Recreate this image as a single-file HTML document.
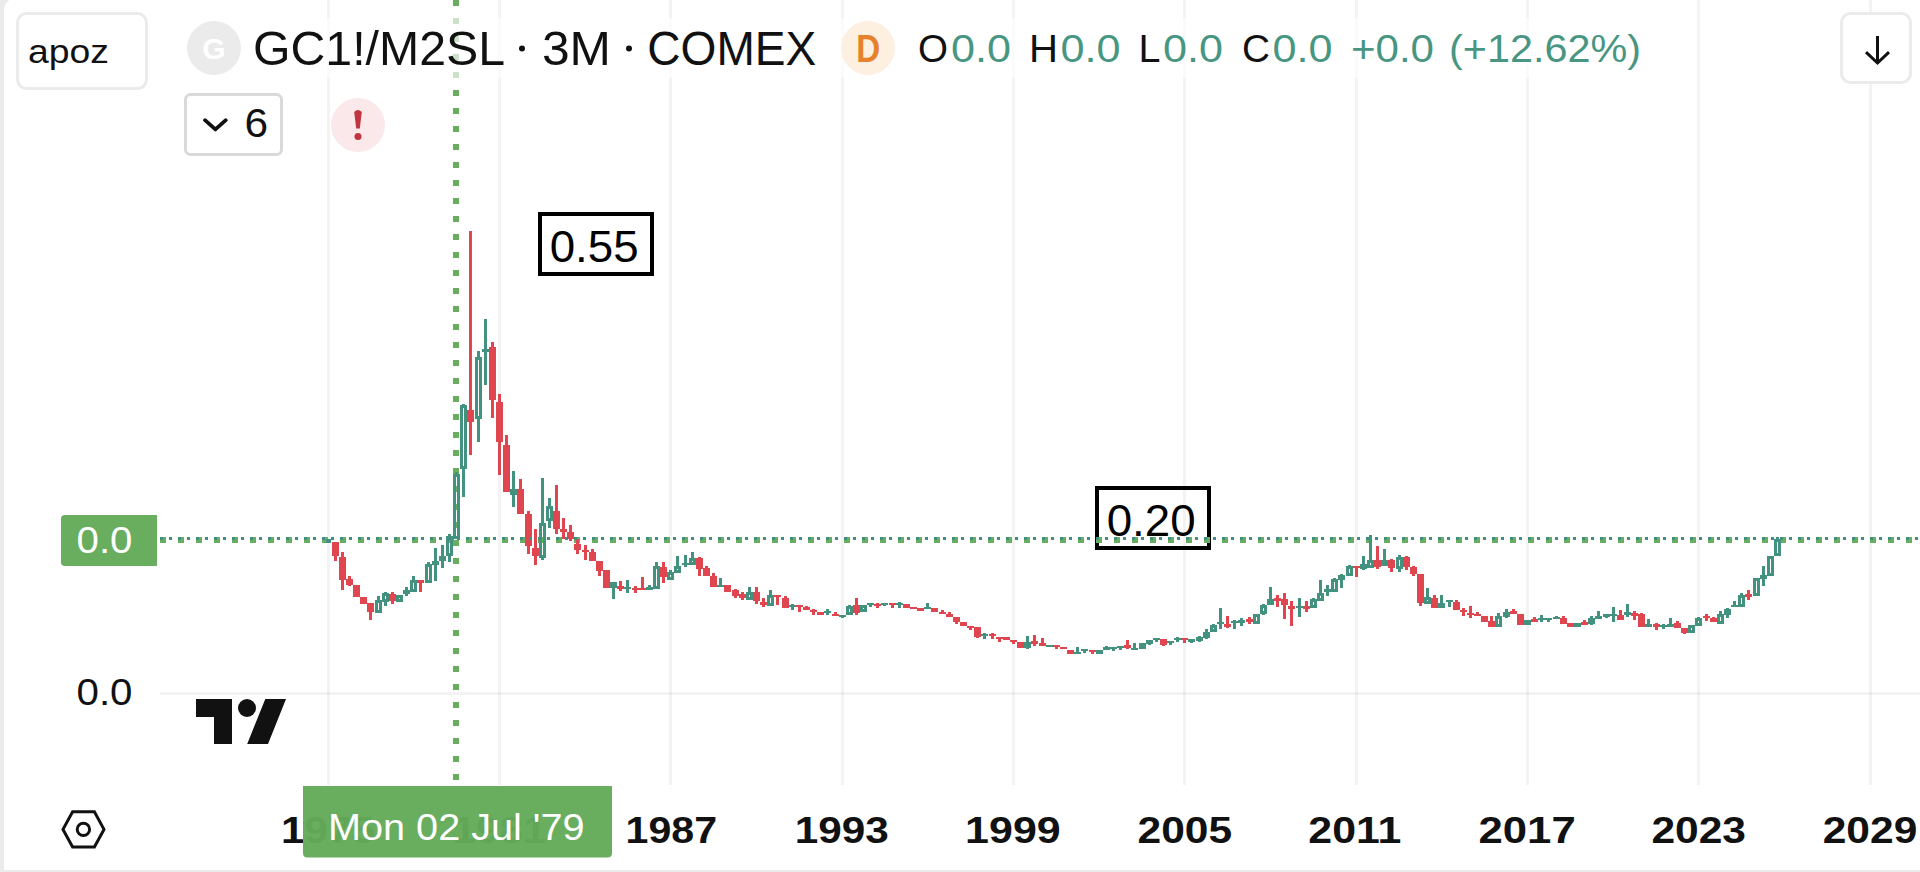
<!DOCTYPE html>
<html lang="en"><head><meta charset="utf-8"><title>GC1!/M2SL chart</title>
<style>
html,body{margin:0;padding:0;}
body{width:1920px;height:872px;overflow:hidden;background:#ebebeb;position:relative;font-family:"Liberation Sans",sans-serif;}
#pane{position:absolute;left:4px;top:-2px;width:1930px;height:872px;background:#fff;border-radius:12px 0 0 0;}
svg{position:absolute;left:0;top:0;}
text{font-family:"Liberation Sans",sans-serif;}
</style></head><body>
<div id="pane"></div>
<svg width="1920" height="872" viewBox="0 0 1920 872">

<g shape-rendering="crispEdges" fill="#000" fill-opacity="0.047">
<rect x="327" y="0" width="3" height="785"/>
<rect x="498" y="0" width="3" height="785"/>
<rect x="669" y="0" width="3" height="785"/>
<rect x="841" y="0" width="3" height="785"/>
<rect x="1012" y="0" width="3" height="785"/>
<rect x="1183" y="0" width="3" height="785"/>
<rect x="1355" y="0" width="3" height="785"/>
<rect x="1526" y="0" width="3" height="785"/>
<rect x="1697" y="0" width="3" height="785"/>
<rect x="1869" y="0" width="3" height="785"/>
<rect x="160" y="692" width="1760" height="3"/>
</g>
<rect x="540" y="214" width="112" height="60" fill="none" stroke="#000" stroke-width="4" shape-rendering="crispEdges"/>
<text x="549.7" y="261.8" font-size="45" fill="#000" textLength="89" lengthAdjust="spacingAndGlyphs">0.55</text>
<rect x="1097" y="488" width="112" height="60" fill="none" stroke="#000" stroke-width="4" shape-rendering="crispEdges"/>
<text x="1106.7" y="535.8" font-size="45" fill="#000" textLength="89" lengthAdjust="spacingAndGlyphs">0.20</text>
<g shape-rendering="crispEdges" fill="#69ad5f">
<rect x="160" y="537" width="6" height="6"/>
<rect x="178" y="537" width="6" height="6"/>
<rect x="196" y="537" width="6" height="6"/>
<rect x="214" y="537" width="6" height="6"/>
<rect x="232" y="537" width="6" height="6"/>
<rect x="250" y="537" width="6" height="6"/>
<rect x="268" y="537" width="6" height="6"/>
<rect x="286" y="537" width="6" height="6"/>
<rect x="304" y="537" width="6" height="6"/>
<rect x="322" y="537" width="6" height="6"/>
<rect x="340" y="537" width="6" height="6"/>
<rect x="358" y="537" width="6" height="6"/>
<rect x="376" y="537" width="6" height="6"/>
<rect x="394" y="537" width="6" height="6"/>
<rect x="412" y="537" width="6" height="6"/>
<rect x="430" y="537" width="6" height="6"/>
<rect x="448" y="537" width="6" height="6"/>
<rect x="466" y="537" width="6" height="6"/>
<rect x="484" y="537" width="6" height="6"/>
<rect x="502" y="537" width="6" height="6"/>
<rect x="520" y="537" width="6" height="6"/>
<rect x="538" y="537" width="6" height="6"/>
<rect x="556" y="537" width="6" height="6"/>
<rect x="574" y="537" width="6" height="6"/>
<rect x="592" y="537" width="6" height="6"/>
<rect x="610" y="537" width="6" height="6"/>
<rect x="628" y="537" width="6" height="6"/>
<rect x="646" y="537" width="6" height="6"/>
<rect x="664" y="537" width="6" height="6"/>
<rect x="682" y="537" width="6" height="6"/>
<rect x="700" y="537" width="6" height="6"/>
<rect x="718" y="537" width="6" height="6"/>
<rect x="736" y="537" width="6" height="6"/>
<rect x="754" y="537" width="6" height="6"/>
<rect x="772" y="537" width="6" height="6"/>
<rect x="790" y="537" width="6" height="6"/>
<rect x="808" y="537" width="6" height="6"/>
<rect x="826" y="537" width="6" height="6"/>
<rect x="844" y="537" width="6" height="6"/>
<rect x="862" y="537" width="6" height="6"/>
<rect x="880" y="537" width="6" height="6"/>
<rect x="898" y="537" width="6" height="6"/>
<rect x="916" y="537" width="6" height="6"/>
<rect x="934" y="537" width="6" height="6"/>
<rect x="952" y="537" width="6" height="6"/>
<rect x="970" y="537" width="6" height="6"/>
<rect x="988" y="537" width="6" height="6"/>
<rect x="1006" y="537" width="6" height="6"/>
<rect x="1024" y="537" width="6" height="6"/>
<rect x="1042" y="537" width="6" height="6"/>
<rect x="1060" y="537" width="6" height="6"/>
<rect x="1078" y="537" width="6" height="6"/>
<rect x="1096" y="537" width="6" height="6"/>
<rect x="1114" y="537" width="6" height="6"/>
<rect x="1132" y="537" width="6" height="6"/>
<rect x="1150" y="537" width="6" height="6"/>
<rect x="1168" y="537" width="6" height="6"/>
<rect x="1186" y="537" width="6" height="6"/>
<rect x="1204" y="537" width="6" height="6"/>
<rect x="1222" y="537" width="6" height="6"/>
<rect x="1240" y="537" width="6" height="6"/>
<rect x="1258" y="537" width="6" height="6"/>
<rect x="1276" y="537" width="6" height="6"/>
<rect x="1294" y="537" width="6" height="6"/>
<rect x="1312" y="537" width="6" height="6"/>
<rect x="1330" y="537" width="6" height="6"/>
<rect x="1348" y="537" width="6" height="6"/>
<rect x="1366" y="537" width="6" height="6"/>
<rect x="1384" y="537" width="6" height="6"/>
<rect x="1402" y="537" width="6" height="6"/>
<rect x="1420" y="537" width="6" height="6"/>
<rect x="1438" y="537" width="6" height="6"/>
<rect x="1456" y="537" width="6" height="6"/>
<rect x="1474" y="537" width="6" height="6"/>
<rect x="1492" y="537" width="6" height="6"/>
<rect x="1510" y="537" width="6" height="6"/>
<rect x="1528" y="537" width="6" height="6"/>
<rect x="1546" y="537" width="6" height="6"/>
<rect x="1564" y="537" width="6" height="6"/>
<rect x="1582" y="537" width="6" height="6"/>
<rect x="1600" y="537" width="6" height="6"/>
<rect x="1618" y="537" width="6" height="6"/>
<rect x="1636" y="537" width="6" height="6"/>
<rect x="1654" y="537" width="6" height="6"/>
<rect x="1672" y="537" width="6" height="6"/>
<rect x="1690" y="537" width="6" height="6"/>
<rect x="1708" y="537" width="6" height="6"/>
<rect x="1726" y="537" width="6" height="6"/>
<rect x="1744" y="537" width="6" height="6"/>
<rect x="1762" y="537" width="6" height="6"/>
<rect x="1780" y="537" width="6" height="6"/>
<rect x="1798" y="537" width="6" height="6"/>
<rect x="1816" y="537" width="6" height="6"/>
<rect x="1834" y="537" width="6" height="6"/>
<rect x="1852" y="537" width="6" height="6"/>
<rect x="1870" y="537" width="6" height="6"/>
<rect x="1888" y="537" width="6" height="6"/>
<rect x="1906" y="537" width="6" height="6"/>
<rect x="453" y="0" width="6" height="6"/>
<rect x="453" y="18" width="6" height="6"/>
<rect x="453" y="36" width="6" height="6"/>
<rect x="453" y="54" width="6" height="6"/>
<rect x="453" y="72" width="6" height="6"/>
<rect x="453" y="90" width="6" height="6"/>
<rect x="453" y="108" width="6" height="6"/>
<rect x="453" y="126" width="6" height="6"/>
<rect x="453" y="144" width="6" height="6"/>
<rect x="453" y="162" width="6" height="6"/>
<rect x="453" y="180" width="6" height="6"/>
<rect x="453" y="198" width="6" height="6"/>
<rect x="453" y="216" width="6" height="6"/>
<rect x="453" y="234" width="6" height="6"/>
<rect x="453" y="252" width="6" height="6"/>
<rect x="453" y="270" width="6" height="6"/>
<rect x="453" y="288" width="6" height="6"/>
<rect x="453" y="306" width="6" height="6"/>
<rect x="453" y="324" width="6" height="6"/>
<rect x="453" y="342" width="6" height="6"/>
<rect x="453" y="360" width="6" height="6"/>
<rect x="453" y="378" width="6" height="6"/>
<rect x="453" y="396" width="6" height="6"/>
<rect x="453" y="414" width="6" height="6"/>
<rect x="453" y="432" width="6" height="6"/>
<rect x="453" y="450" width="6" height="6"/>
<rect x="453" y="468" width="6" height="6"/>
<rect x="453" y="486" width="6" height="6"/>
<rect x="453" y="504" width="6" height="6"/>
<rect x="453" y="522" width="6" height="6"/>
<rect x="453" y="540" width="6" height="6"/>
<rect x="453" y="558" width="6" height="6"/>
<rect x="453" y="576" width="6" height="6"/>
<rect x="453" y="594" width="6" height="6"/>
<rect x="453" y="612" width="6" height="6"/>
<rect x="453" y="630" width="6" height="6"/>
<rect x="453" y="648" width="6" height="6"/>
<rect x="453" y="666" width="6" height="6"/>
<rect x="453" y="684" width="6" height="6"/>
<rect x="453" y="702" width="6" height="6"/>
<rect x="453" y="720" width="6" height="6"/>
<rect x="453" y="738" width="6" height="6"/>
<rect x="453" y="756" width="6" height="6"/>
<rect x="453" y="774" width="6" height="6"/>
</g>
<g shape-rendering="crispEdges">
<rect x="326" y="539" width="5" height="4" fill="#43917f"/>
<rect x="334" y="542" width="3" height="19" fill="#e0464f"/>
<rect x="332" y="542" width="7" height="14" fill="#e0464f"/>
<rect x="341" y="552" width="3" height="38" fill="#e0464f"/>
<rect x="339" y="557" width="7" height="23" fill="#e0464f"/>
<rect x="348" y="576" width="3" height="10" fill="#e0464f"/>
<rect x="346" y="579" width="7" height="6" fill="#e0464f"/>
<rect x="353" y="585" width="7" height="12" fill="#e0464f"/>
<rect x="360" y="597" width="7" height="7" fill="#e0464f"/>
<rect x="369" y="603" width="3" height="17" fill="#e0464f"/>
<rect x="367" y="603" width="7" height="9" fill="#e0464f"/>
<rect x="377" y="596" width="3" height="4" fill="#43917f"/>
<path d="M375 600h7v13h-7zM378 603v7h1v-7z" fill="#43917f" fill-rule="evenodd"/>
<rect x="384" y="592" width="3" height="1" fill="#43917f"/>
<rect x="384" y="602" width="3" height="4" fill="#43917f"/>
<path d="M382 593h7v9h-7zM385 596v3h1v-3z" fill="#43917f" fill-rule="evenodd"/>
<rect x="391" y="592" width="3" height="12" fill="#e0464f"/>
<rect x="389" y="594" width="7" height="7" fill="#e0464f"/>
<path d="M396 595h7v7h-7zM399 598v1h1v-1z" fill="#43917f" fill-rule="evenodd"/>
<rect x="405" y="587" width="3" height="9" fill="#43917f"/>
<rect x="403" y="590" width="7" height="4" fill="#43917f"/>
<rect x="412" y="576" width="3" height="4" fill="#43917f"/>
<path d="M410 580h7v12h-7zM413 583v6h1v-6z" fill="#43917f" fill-rule="evenodd"/>
<rect x="419" y="580" width="3" height="12" fill="#e0464f"/>
<rect x="417" y="580" width="7" height="3" fill="#e0464f"/>
<rect x="427" y="562" width="3" height="2" fill="#43917f"/>
<path d="M425 564h7v19h-7zM428 567v13h1v-13z" fill="#43917f" fill-rule="evenodd"/>
<rect x="434" y="548" width="3" height="33" fill="#43917f"/>
<rect x="432" y="561" width="7" height="4" fill="#43917f"/>
<rect x="441" y="545" width="3" height="23" fill="#43917f"/>
<rect x="439" y="556" width="7" height="5" fill="#43917f"/>
<rect x="448" y="534" width="3" height="2" fill="#43917f"/>
<rect x="448" y="556" width="3" height="6" fill="#43917f"/>
<path d="M446 536h7v20h-7zM449 539v14h1v-14z" fill="#43917f" fill-rule="evenodd"/>
<rect x="455" y="472" width="3" height="2" fill="#43917f"/>
<path d="M453 474h7v65h-7zM456 477v59h1v-59z" fill="#43917f" fill-rule="evenodd"/>
<rect x="462" y="404" width="3" height="1" fill="#43917f"/>
<rect x="462" y="469" width="3" height="28" fill="#43917f"/>
<path d="M460 405h7v64h-7zM463 408v58h1v-58z" fill="#43917f" fill-rule="evenodd"/>
<rect x="469" y="231" width="3" height="224" fill="#e0464f"/>
<rect x="467" y="410" width="7" height="12" fill="#e0464f"/>
<rect x="477" y="351" width="3" height="6" fill="#43917f"/>
<rect x="477" y="419" width="3" height="23" fill="#43917f"/>
<path d="M475 357h7v62h-7zM478 360v56h1v-56z" fill="#43917f" fill-rule="evenodd"/>
<rect x="484" y="319" width="3" height="66" fill="#43917f"/>
<rect x="482" y="349" width="7" height="3" fill="#43917f"/>
<rect x="491" y="342" width="3" height="76" fill="#e0464f"/>
<rect x="489" y="347" width="7" height="53" fill="#e0464f"/>
<rect x="498" y="394" width="3" height="81" fill="#e0464f"/>
<rect x="496" y="402" width="7" height="40" fill="#e0464f"/>
<rect x="505" y="435" width="3" height="57" fill="#e0464f"/>
<rect x="503" y="445" width="7" height="47" fill="#e0464f"/>
<rect x="512" y="471" width="3" height="36" fill="#43917f"/>
<rect x="510" y="489" width="7" height="6" fill="#43917f"/>
<rect x="519" y="479" width="3" height="35" fill="#e0464f"/>
<rect x="517" y="489" width="7" height="25" fill="#e0464f"/>
<rect x="527" y="511" width="3" height="43" fill="#e0464f"/>
<rect x="525" y="514" width="7" height="32" fill="#e0464f"/>
<rect x="534" y="529" width="3" height="36" fill="#e0464f"/>
<rect x="532" y="548" width="7" height="8" fill="#e0464f"/>
<rect x="541" y="478" width="3" height="45" fill="#43917f"/>
<rect x="541" y="558" width="3" height="2" fill="#43917f"/>
<path d="M539 523h7v35h-7zM542 526v29h1v-29z" fill="#43917f" fill-rule="evenodd"/>
<rect x="548" y="498" width="3" height="8" fill="#43917f"/>
<rect x="548" y="521" width="3" height="7" fill="#43917f"/>
<path d="M546 506h7v15h-7zM549 509v9h1v-9z" fill="#43917f" fill-rule="evenodd"/>
<rect x="555" y="485" width="3" height="49" fill="#e0464f"/>
<rect x="553" y="511" width="7" height="18" fill="#e0464f"/>
<rect x="562" y="518" width="3" height="21" fill="#e0464f"/>
<rect x="560" y="529" width="7" height="3" fill="#e0464f"/>
<rect x="569" y="525" width="3" height="16" fill="#e0464f"/>
<rect x="567" y="532" width="7" height="7" fill="#e0464f"/>
<rect x="576" y="539" width="3" height="15" fill="#e0464f"/>
<rect x="574" y="544" width="7" height="6" fill="#e0464f"/>
<rect x="584" y="545" width="3" height="15" fill="#e0464f"/>
<rect x="582" y="550" width="7" height="2" fill="#e0464f"/>
<rect x="591" y="549" width="3" height="12" fill="#e0464f"/>
<rect x="589" y="552" width="7" height="9" fill="#e0464f"/>
<rect x="598" y="561" width="3" height="15" fill="#e0464f"/>
<rect x="596" y="561" width="7" height="10" fill="#e0464f"/>
<rect x="603" y="570" width="7" height="18" fill="#e0464f"/>
<rect x="612" y="582" width="3" height="17" fill="#43917f"/>
<rect x="610" y="582" width="7" height="6" fill="#43917f"/>
<rect x="619" y="581" width="3" height="10" fill="#e0464f"/>
<rect x="617" y="586" width="7" height="3" fill="#e0464f"/>
<rect x="626" y="580" width="3" height="13" fill="#43917f"/>
<rect x="624" y="587" width="7" height="2" fill="#43917f"/>
<rect x="634" y="586" width="3" height="7" fill="#e0464f"/>
<rect x="632" y="588" width="7" height="2" fill="#e0464f"/>
<rect x="641" y="577" width="3" height="13" fill="#e0464f"/>
<rect x="639" y="588" width="7" height="2" fill="#e0464f"/>
<rect x="648" y="585" width="3" height="5" fill="#43917f"/>
<rect x="646" y="587" width="7" height="3" fill="#43917f"/>
<rect x="655" y="562" width="3" height="4" fill="#43917f"/>
<path d="M653 566h7v23h-7zM656 569v17h1v-17z" fill="#43917f" fill-rule="evenodd"/>
<rect x="662" y="562" width="3" height="21" fill="#e0464f"/>
<rect x="660" y="567" width="7" height="10" fill="#e0464f"/>
<rect x="669" y="570" width="3" height="2" fill="#43917f"/>
<path d="M667 572h7v8h-7zM670 575v2h1v-2z" fill="#43917f" fill-rule="evenodd"/>
<rect x="676" y="556" width="3" height="10" fill="#43917f"/>
<path d="M674 566h7v7h-7zM677 569v1h1v-1z" fill="#43917f" fill-rule="evenodd"/>
<rect x="684" y="555" width="3" height="12" fill="#43917f"/>
<rect x="682" y="563" width="7" height="2" fill="#43917f"/>
<rect x="691" y="552" width="3" height="6" fill="#43917f"/>
<path d="M689 558h7v7h-7zM692 561v1h1v-1z" fill="#43917f" fill-rule="evenodd"/>
<rect x="698" y="557" width="3" height="19" fill="#e0464f"/>
<rect x="696" y="558" width="7" height="11" fill="#e0464f"/>
<rect x="705" y="566" width="3" height="10" fill="#e0464f"/>
<rect x="703" y="568" width="7" height="8" fill="#e0464f"/>
<rect x="712" y="573" width="3" height="14" fill="#e0464f"/>
<rect x="710" y="576" width="7" height="11" fill="#e0464f"/>
<rect x="719" y="578" width="3" height="9" fill="#43917f"/>
<rect x="717" y="585" width="7" height="2" fill="#43917f"/>
<rect x="724" y="585" width="7" height="7" fill="#e0464f"/>
<rect x="734" y="589" width="3" height="9" fill="#e0464f"/>
<rect x="732" y="590" width="7" height="6" fill="#e0464f"/>
<rect x="741" y="592" width="3" height="8" fill="#e0464f"/>
<rect x="739" y="594" width="7" height="4" fill="#e0464f"/>
<rect x="748" y="587" width="3" height="5" fill="#43917f"/>
<path d="M746 592h7v8h-7zM749 595v2h1v-2z" fill="#43917f" fill-rule="evenodd"/>
<rect x="755" y="587" width="3" height="17" fill="#e0464f"/>
<rect x="753" y="592" width="7" height="9" fill="#e0464f"/>
<rect x="762" y="598" width="3" height="9" fill="#e0464f"/>
<rect x="760" y="602" width="7" height="3" fill="#e0464f"/>
<rect x="769" y="590" width="3" height="5" fill="#43917f"/>
<path d="M767 595h7v11h-7zM770 598v5h1v-5z" fill="#43917f" fill-rule="evenodd"/>
<rect x="776" y="595" width="3" height="10" fill="#e0464f"/>
<rect x="774" y="595" width="7" height="2" fill="#e0464f"/>
<rect x="784" y="596" width="3" height="12" fill="#e0464f"/>
<rect x="782" y="598" width="7" height="10" fill="#e0464f"/>
<rect x="791" y="604" width="3" height="6" fill="#43917f"/>
<rect x="789" y="605" width="7" height="2" fill="#43917f"/>
<rect x="798" y="605" width="3" height="7" fill="#e0464f"/>
<rect x="796" y="605" width="7" height="2" fill="#e0464f"/>
<rect x="805" y="606" width="3" height="4" fill="#e0464f"/>
<rect x="803" y="607" width="7" height="3" fill="#e0464f"/>
<rect x="812" y="609" width="3" height="6" fill="#e0464f"/>
<rect x="810" y="610" width="7" height="2" fill="#e0464f"/>
<rect x="817" y="612" width="7" height="3" fill="#e0464f"/>
<rect x="826" y="609" width="3" height="6" fill="#43917f"/>
<rect x="824" y="611" width="7" height="2" fill="#43917f"/>
<rect x="834" y="612" width="3" height="4" fill="#e0464f"/>
<rect x="832" y="614" width="7" height="2" fill="#e0464f"/>
<rect x="841" y="615" width="3" height="3" fill="#43917f"/>
<rect x="839" y="615" width="7" height="2" fill="#43917f"/>
<rect x="848" y="605" width="3" height="1" fill="#43917f"/>
<path d="M846 606h7v9h-7zM849 609v3h1v-3z" fill="#43917f" fill-rule="evenodd"/>
<rect x="855" y="598" width="3" height="17" fill="#e0464f"/>
<rect x="853" y="605" width="7" height="8" fill="#e0464f"/>
<path d="M860 605h7v7h-7zM863 608v1h1v-1z" fill="#43917f" fill-rule="evenodd"/>
<rect x="869" y="603" width="3" height="4" fill="#43917f"/>
<rect x="867" y="603" width="7" height="2" fill="#43917f"/>
<rect x="876" y="603" width="3" height="5" fill="#e0464f"/>
<rect x="874" y="604" width="7" height="2" fill="#e0464f"/>
<rect x="883" y="603" width="3" height="3" fill="#43917f"/>
<rect x="881" y="603" width="7" height="2" fill="#43917f"/>
<rect x="891" y="603" width="3" height="5" fill="#e0464f"/>
<rect x="889" y="603" width="7" height="2" fill="#e0464f"/>
<rect x="898" y="602" width="3" height="6" fill="#43917f"/>
<rect x="896" y="603" width="7" height="2" fill="#43917f"/>
<rect x="903" y="604" width="7" height="4" fill="#e0464f"/>
<rect x="910" y="607" width="7" height="2" fill="#e0464f"/>
<rect x="917" y="608" width="7" height="3" fill="#e0464f"/>
<rect x="926" y="603" width="3" height="6" fill="#43917f"/>
<rect x="924" y="607" width="7" height="2" fill="#43917f"/>
<rect x="931" y="608" width="7" height="4" fill="#e0464f"/>
<rect x="941" y="610" width="3" height="4" fill="#e0464f"/>
<rect x="939" y="612" width="7" height="2" fill="#e0464f"/>
<rect x="948" y="612" width="3" height="5" fill="#e0464f"/>
<rect x="946" y="614" width="7" height="3" fill="#e0464f"/>
<rect x="955" y="617" width="3" height="7" fill="#e0464f"/>
<rect x="953" y="617" width="7" height="5" fill="#e0464f"/>
<rect x="960" y="622" width="7" height="4" fill="#e0464f"/>
<rect x="969" y="626" width="3" height="4" fill="#e0464f"/>
<rect x="967" y="626" width="7" height="2" fill="#e0464f"/>
<rect x="976" y="627" width="3" height="11" fill="#e0464f"/>
<rect x="974" y="627" width="7" height="10" fill="#e0464f"/>
<rect x="983" y="633" width="3" height="6" fill="#43917f"/>
<rect x="981" y="634" width="7" height="2" fill="#43917f"/>
<rect x="991" y="633" width="3" height="6" fill="#e0464f"/>
<rect x="989" y="634" width="7" height="2" fill="#e0464f"/>
<rect x="998" y="637" width="3" height="5" fill="#e0464f"/>
<rect x="996" y="637" width="7" height="2" fill="#e0464f"/>
<rect x="1003" y="637" width="7" height="3" fill="#e0464f"/>
<rect x="1012" y="640" width="3" height="4" fill="#e0464f"/>
<rect x="1010" y="640" width="7" height="2" fill="#e0464f"/>
<rect x="1017" y="642" width="7" height="6" fill="#e0464f"/>
<rect x="1026" y="636" width="3" height="13" fill="#43917f"/>
<rect x="1024" y="642" width="7" height="6" fill="#43917f"/>
<rect x="1033" y="635" width="3" height="11" fill="#e0464f"/>
<rect x="1031" y="641" width="7" height="3" fill="#e0464f"/>
<rect x="1041" y="638" width="3" height="8" fill="#e0464f"/>
<rect x="1039" y="643" width="7" height="3" fill="#e0464f"/>
<rect x="1046" y="645" width="7" height="2" fill="#43917f"/>
<rect x="1055" y="645" width="3" height="4" fill="#e0464f"/>
<rect x="1053" y="645" width="7" height="2" fill="#e0464f"/>
<rect x="1060" y="647" width="7" height="2" fill="#e0464f"/>
<rect x="1067" y="650" width="7" height="4" fill="#e0464f"/>
<rect x="1076" y="647" width="3" height="7" fill="#43917f"/>
<rect x="1074" y="652" width="7" height="2" fill="#43917f"/>
<rect x="1083" y="649" width="3" height="4" fill="#43917f"/>
<rect x="1081" y="649" width="7" height="2" fill="#43917f"/>
<rect x="1091" y="650" width="3" height="4" fill="#e0464f"/>
<rect x="1089" y="650" width="7" height="2" fill="#e0464f"/>
<rect x="1096" y="650" width="7" height="4" fill="#43917f"/>
<rect x="1105" y="646" width="3" height="4" fill="#43917f"/>
<rect x="1103" y="647" width="7" height="3" fill="#43917f"/>
<rect x="1112" y="647" width="3" height="4" fill="#43917f"/>
<rect x="1110" y="647" width="7" height="2" fill="#43917f"/>
<rect x="1119" y="646" width="3" height="4" fill="#43917f"/>
<rect x="1117" y="646" width="7" height="2" fill="#43917f"/>
<rect x="1126" y="640" width="3" height="9" fill="#e0464f"/>
<rect x="1124" y="645" width="7" height="3" fill="#e0464f"/>
<rect x="1133" y="643" width="3" height="7" fill="#43917f"/>
<rect x="1131" y="648" width="7" height="2" fill="#43917f"/>
<rect x="1139" y="643" width="7" height="6" fill="#43917f"/>
<rect x="1148" y="640" width="3" height="5" fill="#43917f"/>
<rect x="1146" y="640" width="7" height="4" fill="#43917f"/>
<rect x="1155" y="638" width="3" height="4" fill="#43917f"/>
<rect x="1153" y="638" width="7" height="2" fill="#43917f"/>
<rect x="1162" y="639" width="3" height="7" fill="#e0464f"/>
<rect x="1160" y="639" width="7" height="6" fill="#e0464f"/>
<rect x="1169" y="641" width="3" height="4" fill="#43917f"/>
<rect x="1167" y="641" width="7" height="2" fill="#43917f"/>
<rect x="1176" y="637" width="3" height="5" fill="#43917f"/>
<rect x="1174" y="638" width="7" height="2" fill="#43917f"/>
<rect x="1183" y="638" width="3" height="5" fill="#e0464f"/>
<rect x="1181" y="638" width="7" height="2" fill="#e0464f"/>
<rect x="1190" y="639" width="3" height="4" fill="#43917f"/>
<rect x="1188" y="639" width="7" height="3" fill="#43917f"/>
<rect x="1198" y="636" width="3" height="6" fill="#43917f"/>
<rect x="1196" y="637" width="7" height="4" fill="#43917f"/>
<rect x="1205" y="629" width="3" height="10" fill="#43917f"/>
<rect x="1203" y="632" width="7" height="6" fill="#43917f"/>
<rect x="1212" y="624" width="3" height="1" fill="#43917f"/>
<path d="M1210 625h7v7h-7zM1213 628v1h1v-1z" fill="#43917f" fill-rule="evenodd"/>
<rect x="1219" y="608" width="3" height="21" fill="#43917f"/>
<rect x="1217" y="622" width="7" height="2" fill="#43917f"/>
<rect x="1226" y="616" width="3" height="12" fill="#e0464f"/>
<rect x="1224" y="624" width="7" height="3" fill="#e0464f"/>
<rect x="1233" y="620" width="3" height="9" fill="#43917f"/>
<rect x="1231" y="621" width="7" height="2" fill="#43917f"/>
<rect x="1240" y="618" width="3" height="8" fill="#43917f"/>
<rect x="1238" y="620" width="7" height="3" fill="#43917f"/>
<rect x="1248" y="617" width="3" height="7" fill="#e0464f"/>
<rect x="1246" y="619" width="7" height="3" fill="#e0464f"/>
<path d="M1253 614h7v10h-7zM1256 617v4h1v-4z" fill="#43917f" fill-rule="evenodd"/>
<rect x="1262" y="604" width="3" height="1" fill="#43917f"/>
<rect x="1262" y="614" width="3" height="1" fill="#43917f"/>
<path d="M1260 605h7v9h-7zM1263 608v3h1v-3z" fill="#43917f" fill-rule="evenodd"/>
<rect x="1269" y="587" width="3" height="18" fill="#43917f"/>
<rect x="1267" y="599" width="7" height="6" fill="#43917f"/>
<rect x="1276" y="595" width="3" height="12" fill="#e0464f"/>
<rect x="1274" y="598" width="7" height="3" fill="#e0464f"/>
<rect x="1283" y="593" width="3" height="26" fill="#e0464f"/>
<rect x="1281" y="599" width="7" height="6" fill="#e0464f"/>
<rect x="1290" y="601" width="3" height="25" fill="#e0464f"/>
<rect x="1288" y="606" width="7" height="3" fill="#e0464f"/>
<rect x="1298" y="598" width="3" height="19" fill="#43917f"/>
<rect x="1296" y="606" width="7" height="2" fill="#43917f"/>
<rect x="1305" y="601" width="3" height="11" fill="#e0464f"/>
<rect x="1303" y="606" width="7" height="3" fill="#e0464f"/>
<rect x="1312" y="598" width="3" height="1" fill="#43917f"/>
<path d="M1310 599h7v9h-7zM1313 602v3h1v-3z" fill="#43917f" fill-rule="evenodd"/>
<rect x="1319" y="580" width="3" height="13" fill="#43917f"/>
<path d="M1317 593h7v8h-7zM1320 596v2h1v-2z" fill="#43917f" fill-rule="evenodd"/>
<rect x="1326" y="585" width="3" height="11" fill="#43917f"/>
<rect x="1324" y="589" width="7" height="3" fill="#43917f"/>
<rect x="1333" y="578" width="3" height="1" fill="#43917f"/>
<path d="M1331 579h7v13h-7zM1334 582v7h1v-7z" fill="#43917f" fill-rule="evenodd"/>
<rect x="1340" y="574" width="3" height="14" fill="#43917f"/>
<rect x="1338" y="575" width="7" height="5" fill="#43917f"/>
<rect x="1348" y="565" width="3" height="1" fill="#43917f"/>
<path d="M1346 566h7v10h-7zM1349 569v4h1v-4z" fill="#43917f" fill-rule="evenodd"/>
<rect x="1355" y="566" width="3" height="11" fill="#e0464f"/>
<rect x="1353" y="566" width="7" height="2" fill="#e0464f"/>
<rect x="1362" y="556" width="3" height="14" fill="#43917f"/>
<rect x="1360" y="564" width="7" height="5" fill="#43917f"/>
<rect x="1369" y="535" width="3" height="25" fill="#43917f"/>
<path d="M1367 560h7v8h-7zM1370 563v2h1v-2z" fill="#43917f" fill-rule="evenodd"/>
<rect x="1376" y="546" width="3" height="23" fill="#e0464f"/>
<rect x="1374" y="560" width="7" height="7" fill="#e0464f"/>
<rect x="1383" y="549" width="3" height="17" fill="#43917f"/>
<rect x="1381" y="560" width="7" height="6" fill="#43917f"/>
<rect x="1390" y="559" width="3" height="13" fill="#e0464f"/>
<rect x="1388" y="560" width="7" height="8" fill="#e0464f"/>
<rect x="1398" y="555" width="3" height="2" fill="#43917f"/>
<rect x="1398" y="569" width="3" height="3" fill="#43917f"/>
<path d="M1396 557h7v12h-7zM1399 560v6h1v-6z" fill="#43917f" fill-rule="evenodd"/>
<rect x="1405" y="556" width="3" height="14" fill="#e0464f"/>
<rect x="1403" y="557" width="7" height="10" fill="#e0464f"/>
<rect x="1412" y="566" width="3" height="10" fill="#e0464f"/>
<rect x="1410" y="567" width="7" height="7" fill="#e0464f"/>
<rect x="1419" y="574" width="3" height="32" fill="#e0464f"/>
<rect x="1417" y="574" width="7" height="29" fill="#e0464f"/>
<rect x="1426" y="588" width="3" height="9" fill="#43917f"/>
<path d="M1424 597h7v7h-7zM1427 600v1h1v-1z" fill="#43917f" fill-rule="evenodd"/>
<rect x="1433" y="595" width="3" height="13" fill="#e0464f"/>
<rect x="1431" y="598" width="7" height="10" fill="#e0464f"/>
<rect x="1440" y="595" width="3" height="13" fill="#43917f"/>
<rect x="1438" y="603" width="7" height="5" fill="#43917f"/>
<rect x="1448" y="600" width="3" height="7" fill="#43917f"/>
<rect x="1446" y="600" width="7" height="2" fill="#43917f"/>
<rect x="1455" y="600" width="3" height="10" fill="#e0464f"/>
<rect x="1453" y="602" width="7" height="8" fill="#e0464f"/>
<rect x="1462" y="608" width="3" height="8" fill="#e0464f"/>
<rect x="1460" y="610" width="7" height="2" fill="#e0464f"/>
<rect x="1469" y="606" width="3" height="12" fill="#e0464f"/>
<rect x="1467" y="613" width="7" height="2" fill="#e0464f"/>
<rect x="1476" y="612" width="3" height="4" fill="#e0464f"/>
<rect x="1474" y="614" width="7" height="2" fill="#e0464f"/>
<rect x="1481" y="616" width="7" height="6" fill="#e0464f"/>
<rect x="1490" y="616" width="3" height="11" fill="#e0464f"/>
<rect x="1488" y="621" width="7" height="6" fill="#e0464f"/>
<rect x="1497" y="613" width="3" height="3" fill="#43917f"/>
<path d="M1495 616h7v11h-7zM1498 619v5h1v-5z" fill="#43917f" fill-rule="evenodd"/>
<rect x="1505" y="609" width="3" height="9" fill="#43917f"/>
<rect x="1503" y="612" width="7" height="5" fill="#43917f"/>
<rect x="1512" y="609" width="3" height="5" fill="#e0464f"/>
<rect x="1510" y="611" width="7" height="3" fill="#e0464f"/>
<rect x="1517" y="614" width="7" height="11" fill="#e0464f"/>
<rect x="1524" y="620" width="7" height="5" fill="#43917f"/>
<rect x="1533" y="617" width="3" height="5" fill="#e0464f"/>
<rect x="1531" y="619" width="7" height="3" fill="#e0464f"/>
<rect x="1540" y="615" width="3" height="7" fill="#43917f"/>
<rect x="1538" y="618" width="7" height="2" fill="#43917f"/>
<rect x="1547" y="618" width="3" height="4" fill="#43917f"/>
<rect x="1545" y="618" width="7" height="2" fill="#43917f"/>
<rect x="1555" y="616" width="3" height="3" fill="#43917f"/>
<rect x="1553" y="617" width="7" height="2" fill="#43917f"/>
<rect x="1562" y="616" width="3" height="8" fill="#e0464f"/>
<rect x="1560" y="618" width="7" height="6" fill="#e0464f"/>
<rect x="1567" y="623" width="7" height="4" fill="#e0464f"/>
<rect x="1574" y="623" width="7" height="4" fill="#43917f"/>
<rect x="1583" y="620" width="3" height="5" fill="#e0464f"/>
<rect x="1581" y="622" width="7" height="3" fill="#e0464f"/>
<rect x="1590" y="616" width="3" height="9" fill="#43917f"/>
<rect x="1588" y="618" width="7" height="6" fill="#43917f"/>
<rect x="1597" y="611" width="3" height="8" fill="#43917f"/>
<rect x="1595" y="616" width="7" height="3" fill="#43917f"/>
<rect x="1605" y="614" width="3" height="4" fill="#43917f"/>
<rect x="1603" y="614" width="7" height="3" fill="#43917f"/>
<rect x="1612" y="607" width="3" height="15" fill="#43917f"/>
<rect x="1610" y="614" width="7" height="2" fill="#43917f"/>
<rect x="1619" y="610" width="3" height="10" fill="#e0464f"/>
<rect x="1617" y="615" width="7" height="5" fill="#e0464f"/>
<rect x="1626" y="604" width="3" height="13" fill="#43917f"/>
<rect x="1624" y="612" width="7" height="3" fill="#43917f"/>
<rect x="1633" y="611" width="3" height="9" fill="#e0464f"/>
<rect x="1631" y="613" width="7" height="3" fill="#e0464f"/>
<rect x="1640" y="613" width="3" height="14" fill="#e0464f"/>
<rect x="1638" y="614" width="7" height="13" fill="#e0464f"/>
<rect x="1647" y="619" width="3" height="8" fill="#43917f"/>
<rect x="1645" y="624" width="7" height="3" fill="#43917f"/>
<rect x="1655" y="623" width="3" height="7" fill="#e0464f"/>
<rect x="1653" y="624" width="7" height="3" fill="#e0464f"/>
<rect x="1662" y="624" width="3" height="5" fill="#43917f"/>
<rect x="1660" y="625" width="7" height="2" fill="#43917f"/>
<rect x="1669" y="618" width="3" height="9" fill="#43917f"/>
<rect x="1667" y="624" width="7" height="3" fill="#43917f"/>
<rect x="1676" y="621" width="3" height="7" fill="#e0464f"/>
<rect x="1674" y="623" width="7" height="5" fill="#e0464f"/>
<rect x="1683" y="628" width="3" height="6" fill="#e0464f"/>
<rect x="1681" y="628" width="7" height="5" fill="#e0464f"/>
<path d="M1688 625h7v8h-7zM1691 628v2h1v-2z" fill="#43917f" fill-rule="evenodd"/>
<rect x="1697" y="617" width="3" height="1" fill="#43917f"/>
<path d="M1695 618h7v8h-7zM1698 621v2h1v-2z" fill="#43917f" fill-rule="evenodd"/>
<rect x="1705" y="614" width="3" height="7" fill="#e0464f"/>
<rect x="1703" y="616" width="7" height="2" fill="#e0464f"/>
<rect x="1712" y="617" width="3" height="5" fill="#e0464f"/>
<rect x="1710" y="618" width="7" height="4" fill="#e0464f"/>
<rect x="1719" y="611" width="3" height="3" fill="#43917f"/>
<path d="M1717 614h7v10h-7zM1720 617v4h1v-4z" fill="#43917f" fill-rule="evenodd"/>
<rect x="1726" y="608" width="3" height="10" fill="#43917f"/>
<rect x="1724" y="609" width="7" height="6" fill="#43917f"/>
<rect x="1733" y="601" width="3" height="6" fill="#43917f"/>
<rect x="1731" y="605" width="7" height="2" fill="#43917f"/>
<rect x="1740" y="593" width="3" height="2" fill="#43917f"/>
<path d="M1738 595h7v12h-7zM1741 598v6h1v-6z" fill="#43917f" fill-rule="evenodd"/>
<rect x="1747" y="590" width="3" height="10" fill="#e0464f"/>
<rect x="1745" y="594" width="7" height="3" fill="#e0464f"/>
<path d="M1753 578h7v18h-7zM1756 581v12h1v-12z" fill="#43917f" fill-rule="evenodd"/>
<rect x="1762" y="566" width="3" height="20" fill="#43917f"/>
<rect x="1760" y="575" width="7" height="4" fill="#43917f"/>
<path d="M1767 556h7v20h-7zM1770 559v14h1v-14z" fill="#43917f" fill-rule="evenodd"/>
<rect x="1776" y="537" width="3" height="2" fill="#43917f"/>
<path d="M1774 539h7v17h-7zM1777 542v11h1v-11z" fill="#43917f" fill-rule="evenodd"/>
</g>
<g shape-rendering="crispEdges" fill="#3f8f7f">
<rect x="160" y="537" width="3" height="3"/>
<rect x="169" y="537" width="3" height="3"/>
<rect x="178" y="537" width="3" height="3"/>
<rect x="187" y="537" width="3" height="3"/>
<rect x="196" y="537" width="3" height="3"/>
<rect x="205" y="537" width="3" height="3"/>
<rect x="214" y="537" width="3" height="3"/>
<rect x="223" y="537" width="3" height="3"/>
<rect x="232" y="537" width="3" height="3"/>
<rect x="241" y="537" width="3" height="3"/>
<rect x="250" y="537" width="3" height="3"/>
<rect x="259" y="537" width="3" height="3"/>
<rect x="268" y="537" width="3" height="3"/>
<rect x="277" y="537" width="3" height="3"/>
<rect x="286" y="537" width="3" height="3"/>
<rect x="295" y="537" width="3" height="3"/>
<rect x="304" y="537" width="3" height="3"/>
<rect x="313" y="537" width="3" height="3"/>
<rect x="322" y="537" width="3" height="3"/>
<rect x="331" y="537" width="3" height="3"/>
<rect x="340" y="537" width="3" height="3"/>
<rect x="349" y="537" width="3" height="3"/>
<rect x="358" y="537" width="3" height="3"/>
<rect x="367" y="537" width="3" height="3"/>
<rect x="376" y="537" width="3" height="3"/>
<rect x="385" y="537" width="3" height="3"/>
<rect x="394" y="537" width="3" height="3"/>
<rect x="403" y="537" width="3" height="3"/>
<rect x="412" y="537" width="3" height="3"/>
<rect x="421" y="537" width="3" height="3"/>
<rect x="430" y="537" width="3" height="3"/>
<rect x="439" y="537" width="3" height="3"/>
<rect x="448" y="537" width="3" height="3"/>
<rect x="457" y="537" width="3" height="3"/>
<rect x="466" y="537" width="3" height="3"/>
<rect x="475" y="537" width="3" height="3"/>
<rect x="484" y="537" width="3" height="3"/>
<rect x="493" y="537" width="3" height="3"/>
<rect x="502" y="537" width="3" height="3"/>
<rect x="511" y="537" width="3" height="3"/>
<rect x="520" y="537" width="3" height="3"/>
<rect x="529" y="537" width="3" height="3"/>
<rect x="538" y="537" width="3" height="3"/>
<rect x="547" y="537" width="3" height="3"/>
<rect x="556" y="537" width="3" height="3"/>
<rect x="565" y="537" width="3" height="3"/>
<rect x="574" y="537" width="3" height="3"/>
<rect x="583" y="537" width="3" height="3"/>
<rect x="592" y="537" width="3" height="3"/>
<rect x="601" y="537" width="3" height="3"/>
<rect x="610" y="537" width="3" height="3"/>
<rect x="619" y="537" width="3" height="3"/>
<rect x="628" y="537" width="3" height="3"/>
<rect x="637" y="537" width="3" height="3"/>
<rect x="646" y="537" width="3" height="3"/>
<rect x="655" y="537" width="3" height="3"/>
<rect x="664" y="537" width="3" height="3"/>
<rect x="673" y="537" width="3" height="3"/>
<rect x="682" y="537" width="3" height="3"/>
<rect x="691" y="537" width="3" height="3"/>
<rect x="700" y="537" width="3" height="3"/>
<rect x="709" y="537" width="3" height="3"/>
<rect x="718" y="537" width="3" height="3"/>
<rect x="727" y="537" width="3" height="3"/>
<rect x="736" y="537" width="3" height="3"/>
<rect x="745" y="537" width="3" height="3"/>
<rect x="754" y="537" width="3" height="3"/>
<rect x="763" y="537" width="3" height="3"/>
<rect x="772" y="537" width="3" height="3"/>
<rect x="781" y="537" width="3" height="3"/>
<rect x="790" y="537" width="3" height="3"/>
<rect x="799" y="537" width="3" height="3"/>
<rect x="808" y="537" width="3" height="3"/>
<rect x="817" y="537" width="3" height="3"/>
<rect x="826" y="537" width="3" height="3"/>
<rect x="835" y="537" width="3" height="3"/>
<rect x="844" y="537" width="3" height="3"/>
<rect x="853" y="537" width="3" height="3"/>
<rect x="862" y="537" width="3" height="3"/>
<rect x="871" y="537" width="3" height="3"/>
<rect x="880" y="537" width="3" height="3"/>
<rect x="889" y="537" width="3" height="3"/>
<rect x="898" y="537" width="3" height="3"/>
<rect x="907" y="537" width="3" height="3"/>
<rect x="916" y="537" width="3" height="3"/>
<rect x="925" y="537" width="3" height="3"/>
<rect x="934" y="537" width="3" height="3"/>
<rect x="943" y="537" width="3" height="3"/>
<rect x="952" y="537" width="3" height="3"/>
<rect x="961" y="537" width="3" height="3"/>
<rect x="970" y="537" width="3" height="3"/>
<rect x="979" y="537" width="3" height="3"/>
<rect x="988" y="537" width="3" height="3"/>
<rect x="997" y="537" width="3" height="3"/>
<rect x="1006" y="537" width="3" height="3"/>
<rect x="1015" y="537" width="3" height="3"/>
<rect x="1024" y="537" width="3" height="3"/>
<rect x="1033" y="537" width="3" height="3"/>
<rect x="1042" y="537" width="3" height="3"/>
<rect x="1051" y="537" width="3" height="3"/>
<rect x="1060" y="537" width="3" height="3"/>
<rect x="1069" y="537" width="3" height="3"/>
<rect x="1078" y="537" width="3" height="3"/>
<rect x="1087" y="537" width="3" height="3"/>
<rect x="1096" y="537" width="3" height="3"/>
<rect x="1105" y="537" width="3" height="3"/>
<rect x="1114" y="537" width="3" height="3"/>
<rect x="1123" y="537" width="3" height="3"/>
<rect x="1132" y="537" width="3" height="3"/>
<rect x="1141" y="537" width="3" height="3"/>
<rect x="1150" y="537" width="3" height="3"/>
<rect x="1159" y="537" width="3" height="3"/>
<rect x="1168" y="537" width="3" height="3"/>
<rect x="1177" y="537" width="3" height="3"/>
<rect x="1186" y="537" width="3" height="3"/>
<rect x="1195" y="537" width="3" height="3"/>
<rect x="1204" y="537" width="3" height="3"/>
<rect x="1213" y="537" width="3" height="3"/>
<rect x="1222" y="537" width="3" height="3"/>
<rect x="1231" y="537" width="3" height="3"/>
<rect x="1240" y="537" width="3" height="3"/>
<rect x="1249" y="537" width="3" height="3"/>
<rect x="1258" y="537" width="3" height="3"/>
<rect x="1267" y="537" width="3" height="3"/>
<rect x="1276" y="537" width="3" height="3"/>
<rect x="1285" y="537" width="3" height="3"/>
<rect x="1294" y="537" width="3" height="3"/>
<rect x="1303" y="537" width="3" height="3"/>
<rect x="1312" y="537" width="3" height="3"/>
<rect x="1321" y="537" width="3" height="3"/>
<rect x="1330" y="537" width="3" height="3"/>
<rect x="1339" y="537" width="3" height="3"/>
<rect x="1348" y="537" width="3" height="3"/>
<rect x="1357" y="537" width="3" height="3"/>
<rect x="1366" y="537" width="3" height="3"/>
<rect x="1375" y="537" width="3" height="3"/>
<rect x="1384" y="537" width="3" height="3"/>
<rect x="1393" y="537" width="3" height="3"/>
<rect x="1402" y="537" width="3" height="3"/>
<rect x="1411" y="537" width="3" height="3"/>
<rect x="1420" y="537" width="3" height="3"/>
<rect x="1429" y="537" width="3" height="3"/>
<rect x="1438" y="537" width="3" height="3"/>
<rect x="1447" y="537" width="3" height="3"/>
<rect x="1456" y="537" width="3" height="3"/>
<rect x="1465" y="537" width="3" height="3"/>
<rect x="1474" y="537" width="3" height="3"/>
<rect x="1483" y="537" width="3" height="3"/>
<rect x="1492" y="537" width="3" height="3"/>
<rect x="1501" y="537" width="3" height="3"/>
<rect x="1510" y="537" width="3" height="3"/>
<rect x="1519" y="537" width="3" height="3"/>
<rect x="1528" y="537" width="3" height="3"/>
<rect x="1537" y="537" width="3" height="3"/>
<rect x="1546" y="537" width="3" height="3"/>
<rect x="1555" y="537" width="3" height="3"/>
<rect x="1564" y="537" width="3" height="3"/>
<rect x="1573" y="537" width="3" height="3"/>
<rect x="1582" y="537" width="3" height="3"/>
<rect x="1591" y="537" width="3" height="3"/>
<rect x="1600" y="537" width="3" height="3"/>
<rect x="1609" y="537" width="3" height="3"/>
<rect x="1618" y="537" width="3" height="3"/>
<rect x="1627" y="537" width="3" height="3"/>
<rect x="1636" y="537" width="3" height="3"/>
<rect x="1645" y="537" width="3" height="3"/>
<rect x="1654" y="537" width="3" height="3"/>
<rect x="1663" y="537" width="3" height="3"/>
<rect x="1672" y="537" width="3" height="3"/>
<rect x="1681" y="537" width="3" height="3"/>
<rect x="1690" y="537" width="3" height="3"/>
<rect x="1699" y="537" width="3" height="3"/>
<rect x="1708" y="537" width="3" height="3"/>
<rect x="1717" y="537" width="3" height="3"/>
<rect x="1726" y="537" width="3" height="3"/>
<rect x="1735" y="537" width="3" height="3"/>
<rect x="1744" y="537" width="3" height="3"/>
<rect x="1753" y="537" width="3" height="3"/>
<rect x="1762" y="537" width="3" height="3"/>
<rect x="1771" y="537" width="3" height="3"/>
<rect x="1780" y="537" width="3" height="3"/>
<rect x="1789" y="537" width="3" height="3"/>
<rect x="1798" y="537" width="3" height="3"/>
<rect x="1807" y="537" width="3" height="3"/>
<rect x="1816" y="537" width="3" height="3"/>
<rect x="1825" y="537" width="3" height="3"/>
<rect x="1834" y="537" width="3" height="3"/>
<rect x="1843" y="537" width="3" height="3"/>
<rect x="1852" y="537" width="3" height="3"/>
<rect x="1861" y="537" width="3" height="3"/>
<rect x="1870" y="537" width="3" height="3"/>
<rect x="1879" y="537" width="3" height="3"/>
<rect x="1888" y="537" width="3" height="3"/>
<rect x="1897" y="537" width="3" height="3"/>
<rect x="1906" y="537" width="3" height="3"/>
<rect x="1915" y="537" width="3" height="3"/>
</g>
<rect x="184" y="18" width="1465" height="60" fill="#fff" fill-opacity="0.65"/>
<rect x="17.5" y="13.5" width="129" height="75" rx="9" ry="9" fill="#fff" stroke="#ebebeb" stroke-width="3"/>
<text x="28" y="63" font-size="34" fill="#111" textLength="81" lengthAdjust="spacingAndGlyphs">apoz</text>
<circle cx="214" cy="48" r="27" fill="#ebebeb"/>
<text x="214" y="59.3" font-size="30" font-weight="bold" fill="#fff" text-anchor="middle">G</text>
<text x="253" y="65.3" font-size="48" fill="#111" textLength="252" lengthAdjust="spacingAndGlyphs">GC1!/M2SL</text>
<circle cx="522" cy="48.5" r="3" fill="#111"/>
<text x="542" y="65.3" font-size="48" fill="#111" textLength="69" lengthAdjust="spacingAndGlyphs">3M</text>
<circle cx="629" cy="48.5" r="3" fill="#111"/>
<text x="647.3" y="65.3" font-size="48" fill="#111" textLength="169" lengthAdjust="spacingAndGlyphs">COMEX</text>
<circle cx="868" cy="48" r="27" fill="#fdf0e1"/>
<text x="856.2" y="61.6" font-size="38" font-weight="bold" fill="#e5822b" textLength="24" lengthAdjust="spacingAndGlyphs">D</text>
<text x="918.0" y="61.8" font-size="39" fill="#111" textLength="30.0" lengthAdjust="spacingAndGlyphs">O</text>
<text x="951.0" y="61.8" font-size="39" fill="#489682" textLength="60.0" lengthAdjust="spacingAndGlyphs">0.0</text>
<text x="1029.0" y="61.8" font-size="39" fill="#111" textLength="29.0" lengthAdjust="spacingAndGlyphs">H</text>
<text x="1060.5" y="61.8" font-size="39" fill="#489682" textLength="60.0" lengthAdjust="spacingAndGlyphs">0.0</text>
<text x="1138.5" y="61.8" font-size="39" fill="#111" textLength="22.0" lengthAdjust="spacingAndGlyphs">L</text>
<text x="1163.0" y="61.8" font-size="39" fill="#489682" textLength="60.0" lengthAdjust="spacingAndGlyphs">0.0</text>
<text x="1242.0" y="61.8" font-size="39" fill="#111" textLength="28.0" lengthAdjust="spacingAndGlyphs">C</text>
<text x="1272.5" y="61.8" font-size="39" fill="#489682" textLength="60.0" lengthAdjust="spacingAndGlyphs">0.0</text>
<text x="1351.0" y="61.8" font-size="39" fill="#489682" textLength="83.0" lengthAdjust="spacingAndGlyphs">+0.0</text>
<text x="1449.0" y="61.8" font-size="39" fill="#489682" textLength="192.0" lengthAdjust="spacingAndGlyphs">(+12.62%)</text>
<rect x="185.5" y="94.5" width="96" height="60" rx="5" ry="5" fill="#fff" stroke="#d9d9d9" stroke-width="3"/>
<path d="M205 120.2 L215.4 129.4 L225.8 120.2" fill="none" stroke="#111" stroke-width="3.8" stroke-linecap="round" stroke-linejoin="round"/>
<text x="244.5" y="137.4" font-size="40" fill="#111" textLength="23.6" lengthAdjust="spacingAndGlyphs">6</text>
<circle cx="358" cy="125" r="27" fill="#fbe8ea"/>
<path d="M354.2 112 Q358 108 361.8 112 L359.8 128.5 L356.2 128.5 Z" fill="#c0353f"/>
<circle cx="358" cy="136.6" r="3.5" fill="#c0353f"/>
<rect x="1841.5" y="13.5" width="69" height="69" rx="9" ry="9" fill="#fff" stroke="#ebebeb" stroke-width="3"/>
<path d="M1877.5 36 L1877.5 63 M1866 52.2 L1877.5 63 L1889 52.2" fill="none" stroke="#111" stroke-width="3"/>
<text x="76.5" y="705.3" font-size="37" fill="#111" textLength="56" lengthAdjust="spacingAndGlyphs">0.0</text>
<path d="M65 515 H157 V566 H65 Q61 566 61 562 V519 Q61 515 65 515 Z" fill="#69ad5f"/>
<text x="76.5" y="553.3" font-size="37" fill="#fff" textLength="56" lengthAdjust="spacingAndGlyphs">0.0</text>
<path d="M196 699 H232 V744 H214 V717 H196 Z" fill="#111"/>
<circle cx="247" cy="708" r="9" fill="#111"/>
<path d="M265.3 699 H286 L268 744 H247.2 Z" fill="#111"/>
<text x="281.0" y="843" font-size="37" font-weight="bold" fill="#111" textLength="94.0" lengthAdjust="spacingAndGlyphs">1975</text>
<text x="452.5" y="843" font-size="37" font-weight="bold" fill="#111" textLength="94.0" lengthAdjust="spacingAndGlyphs">1981</text>
<text x="625.6" y="843" font-size="37" font-weight="bold" fill="#111" textLength="91.5" lengthAdjust="spacingAndGlyphs">1987</text>
<text x="794.8" y="843" font-size="37" font-weight="bold" fill="#111" textLength="94.1" lengthAdjust="spacingAndGlyphs">1993</text>
<text x="965.1" y="843" font-size="37" font-weight="bold" fill="#111" textLength="95.6" lengthAdjust="spacingAndGlyphs">1999</text>
<text x="1137.5" y="843" font-size="37" font-weight="bold" fill="#111" textLength="94.6" lengthAdjust="spacingAndGlyphs">2005</text>
<text x="1308.3" y="843" font-size="37" font-weight="bold" fill="#111" textLength="93.0" lengthAdjust="spacingAndGlyphs">2011</text>
<text x="1478.5" y="843" font-size="37" font-weight="bold" fill="#111" textLength="97.2" lengthAdjust="spacingAndGlyphs">2017</text>
<text x="1651.4" y="843" font-size="37" font-weight="bold" fill="#111" textLength="94.6" lengthAdjust="spacingAndGlyphs">2023</text>
<text x="1822.7" y="843" font-size="37" font-weight="bold" fill="#111" textLength="94.6" lengthAdjust="spacingAndGlyphs">2029</text>
<path d="M303 786 H612 V853 Q612 857.5 607.5 857.5 H307.5 Q303 857.5 303 853 Z" fill="#64aa5a" fill-opacity="0.97"/>
<text x="328" y="840.3" font-size="37" fill="#fff" textLength="256.5" lengthAdjust="spacingAndGlyphs">Mon 02 Jul '79</text>
<path d="M63 829.4 L72.6 811.8 H94.4 L104 829.4 L94.4 847 H72.6 Z" fill="none" stroke="#111" stroke-width="3" stroke-linejoin="miter"/>
<circle cx="83.4" cy="829.4" r="6.2" fill="none" stroke="#111" stroke-width="3"/>
<rect x="0" y="870" width="1920" height="2" fill="#ebebeb" shape-rendering="crispEdges"/>
</svg></body></html>
